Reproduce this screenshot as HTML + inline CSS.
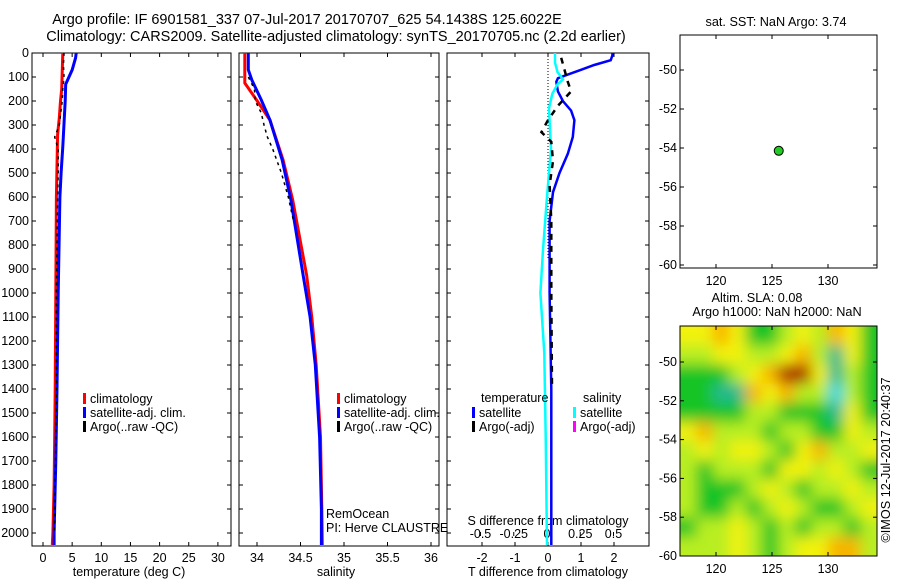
<!DOCTYPE html>
<html><head><meta charset="utf-8">
<style>
html,body{margin:0;padding:0;background:#fff;}
svg{display:block;font-family:"Liberation Sans",sans-serif;}
text{font-size:12.5px;fill:#000;}
.big{font-size:14.5px;}
.mid{font-size:12.7px;}
</style></head>
<body>
<svg id="chart" width="900" height="580" viewBox="0 0 900 580" xmlns="http://www.w3.org/2000/svg">
<defs>
<clipPath id="clipHeat"><rect x="680" y="326" width="197" height="230"/></clipPath>
<filter id="blurHeat" filterUnits="userSpaceOnUse" x="640" y="290" width="280" height="300"><feGaussianBlur stdDeviation="7"/></filter>
</defs>
<text x="307" y="24" text-anchor="middle" class="big">Argo profile: IF 6901581_337 07-Jul-2017 20170707_625 54.1438S 125.6022E</text>
<text x="336" y="41" text-anchor="middle" class="big">Climatology: CARS2009. Satellite-adjusted climatology: synTS_20170705.nc (2.2d earlier)</text>
<text x="776" y="26" text-anchor="middle" class="mid">sat. SST: NaN Argo: 3.74</text>
<text x="757" y="302" text-anchor="middle" class="mid">Altim. SLA: 0.08</text>
<text x="777" y="316" text-anchor="middle" class="mid">Argo h1000: NaN h2000: NaN</text>
<text transform="translate(890,460) rotate(-90)" text-anchor="middle" class="mid">©IMOS 12-Jul-2017 20:40:37</text>
<g id="g"></g>
</svg>
<script>
// ---- data ----
const depthTicks=[0,100,200,300,400,500,600,700,800,900,1000,1100,1200,1300,1400,1500,1600,1700,1800,1900,2000];
const tempTicks=[0,5,10,15,20,25,30];
const salTicks=[34,34.5,35,35.5,36];
const tdiffTicks=[-2,-1,0,1,2];
const sdiffTicks=[-0.5,-0.25,0,0.25,0.5];
const lonTicks=[120,125,130];
const latTicks=[-50,-52,-54,-56,-58,-60];

const tClimDepth=[0,150,200,270,340,600,1000,1400,1600,1800,2000,2050];
const tClimVal=[3.4,3.2,3.0,2.8,2.5,2.3,2.2,2.1,2.0,1.9,1.7,1.6];
const tSatDepth=[0,20,70,130,200,390,500,600,1000,1400,1700,2000,2050];
const tSatVal=[5.7,5.6,5.0,3.9,3.8,3.4,3.1,2.9,2.6,2.4,2.2,1.9,1.9];
const tArgoDepth=[0,50,100,150,200,300,350,400,500,600,800,1000,1400,2000];
const tArgoVal=[3.6,3.5,3.6,3.4,3.3,2.8,2.0,2.6,2.6,2.5,2.4,2.3,2.3,2.0];

const sClimDepth=[0,125,167,204,280,446,612,925,1100,1300,1600,1900,2050];
const sClimVal=[33.86,33.86,33.94,34.01,34.15,34.30,34.41,34.57,34.63,34.68,34.73,34.745,34.75];
const sSatDepth=[0,70,112,196,280,446,612,925,1100,1300,1600,1900,2050];
const sSatVal=[33.90,33.90,33.94,34.05,34.15,34.29,34.39,34.53,34.61,34.67,34.72,34.74,34.74];
const sArgoDepth=[100,150,200,250,300,350,400,500,600,700];
const sArgoVal=[33.9,33.97,33.98,34.05,34.08,34.12,34.18,34.28,34.36,34.42];

const dTSatDepth=[0,10,30,50,70,90,105,120,160,200,240,280,350,420,500,580,700,1000,1400,2050];
const dTSatVal=[1.95,1.95,1.9,1.4,1.0,0.6,0.3,0.25,0.3,0.45,0.7,0.8,0.75,0.6,0.35,0.15,0.05,0.05,0.1,0.1];
const dSSatDepth=[0,40,80,110,130,170,230,400,600,820,1000,1250,1600,2050];
const dSSatVal=[0.06,0.06,0.08,0.12,0.08,0.04,0.015,0.03,0.0,-0.03,-0.05,-0.02,-0.01,0.0];
const dTArgoDepth=[20,120,160,220,280,330,370,450,550,700,1000,1400];
const dTArgoVal=[0.4,0.6,0.7,0.3,0.0,-0.2,0.1,0.15,0.05,0.1,0.1,0.12];

const floatLon=[125.6022];
const floatLat=[-54.1438];

const slaGrid=[
[2,2,3,2,0,0,1,2,1,3,2,0],
[1,1,2,2,1,1,2,3,1,-1,2,0],
[0,0,0,1,2,3,4,4,2,-1,1,0],
[0,0,-1,-1,3,2,3,1,1,-2,1,0],
[0,0,0,0,1,1,0,0,0,-1,2,0],
[2,3,1,1,1,0,1,1,0,0,2,1],
[1,2,1,2,2,1,0,2,3,1,1,2],
[1,0,1,1,1,0,2,2,1,2,1,0],
[1,0,0,0,1,2,1,0,1,1,2,1],
[1,0,0,1,0,1,2,1,0,0,1,2],
[0,1,1,2,1,0,1,0,1,1,0,1],
[1,1,1,2,1,0,1,2,2,3,3,1]];
// ---- scales ----
const NS="http://www.w3.org/2000/svg";
const G=document.getElementById('g');
function el(tag,attrs,parent){const e=document.createElementNS(NS,tag);for(const k in attrs)e.setAttribute(k,attrs[k]);(parent||G).appendChild(e);return e;}
const yD=d=>53+d*0.24;
const xT=t=>43+t*5.83;
const xS=s=>257+(s-34)*87;
const xdT=t=>548+t*33;
const xdS=s=>547+s*133;
const xLon=l=>772+(l-125)*11.2;
const yLatTop=l=>70+(-50-l)*19.5;
const yLatBot=l=>362+(-50-l)*19.4;

function box(x,y,w,h,name){const r=el('rect',{x:x,y:y,width:w,height:h,fill:'none',stroke:'#000','stroke-width':1});

}
function line(xs,ys,fx,color,w,name,dash){
  const pts=xs.map((v,i)=>fx(v).toFixed(1)+','+yD(ys[i]).toFixed(1)).join(' ');
  const p=el('polyline',{points:pts,fill:'none',stroke:color,'stroke-width':w});
  if(dash)p.setAttribute('stroke-dasharray',dash);
  
  
}
function depthAxis(x0,x1,labels){
  depthTicks.forEach(d=>{const y=yD(d);
    el('line',{x1:x0,y1:y,x2:x0+4,y2:y,stroke:'#000'});
    el('line',{x1:x1,y1:y,x2:x1-4,y2:y,stroke:'#000'});
    if(labels){const t=el('text',{x:x0-3,y:y+4,'text-anchor':'end'});t.textContent=d;
      
      }
  });
}
function xAxis(ticks,fx,yb,yt,ylab,name,fmt){
  ticks.forEach(v=>{const x=fx(v);
    el('line',{x1:x,y1:yb,x2:x,y2:yb-4,stroke:'#000'});
    if(yt!==null)el('line',{x1:x,y1:yt,x2:x,y2:yt+4,stroke:'#000'});
    const t=el('text',{x:x,y:ylab,'text-anchor':'middle'});t.textContent=fmt?fmt(v):v;
    
    
  });
}
function legendItem(x,y,color,label,name){
  el('rect',{x:x,y:y-10,width:3,height:11,fill:color});
  const t=el('text',{x:x+7,y:y});t.textContent=label;
  
  
}
function title(x,y,txt,name){const t=el('text',{x:x,y:y,'text-anchor':'middle'});t.textContent=txt;
  
  }
// ---- panel 1 temperature ----
box(32,53,199,493,'temperature-plot-area');
depthAxis(32,231,true);
xAxis(tempTicks,xT,546,53,562,'temperature-tick-label');
title(129,576,'temperature (deg C)','temperature-axis-title');
line(tClimVal,tClimDepth,xT,'#ff0000',3,'temp-climatology-line');
line(tSatVal,tSatDepth,xT,'#0000ff',3,'temp-satellite-line');
line(tArgoVal,tArgoDepth,xT,'#000',1.5,'temp-argo-line','3,4');
legendItem(83,403,'#ff0000','climatology','legend-climatology');
legendItem(83,417,'#0000ff','satellite-adj. clim.','legend-satellite');
legendItem(83,431,'#000','Argo(..raw -QC)','legend-argo');
// ---- panel 2 salinity ----
box(239,53,200,493,'salinity-plot-area');
depthAxis(239,439,false);
xAxis(salTicks,xS,546,53,562,'salinity-tick-label');
title(336,576,'salinity','salinity-axis-title');
line(sClimVal,sClimDepth,xS,'#ff0000',3,'sal-climatology-line');
line(sSatVal,sSatDepth,xS,'#0000ff',3,'sal-satellite-line');
line(sArgoVal,sArgoDepth,xS,'#000',1.5,'sal-argo-line','3,4');
legendItem(337,403,'#ff0000','climatology','legend-sal-climatology');
legendItem(337,417,'#0000ff','satellite-adj. clim.','legend-sal-satellite');
legendItem(337,431,'#000','Argo(..raw -QC)','legend-sal-argo');
{const t=el('text',{x:326,y:518});t.textContent='RemOcean';


const t2=el('text',{x:326,y:532});t2.textContent='PI: Herve CLAUSTRE';

}
// ---- panel 3 differences ----
box(447,53,202,493,'difference-plot-area');
depthAxis(447,649,false);
xAxis(tdiffTicks,xdT,546,53,562,'tdiff-tick-label');
xAxis(sdiffTicks,xdS,536,null,538,'sdiff-tick-label',v=>v===0?'0':String(v));
title(548,576,'T difference from climatology','tdiff-axis-title');
title(548,525,'S difference from climatology','sdiff-axis-title');
el('line',{x1:xdT(0),y1:53,x2:xdT(0),y2:260,stroke:'#000','stroke-dasharray':'1,2'});
line(dTSatVal,dTSatDepth,xdT,'#0000ff',2.5,'tdiff-satellite-line');
line(dSSatVal,dSSatDepth,xdS,'#00ffff',2.5,'sdiff-satellite-line');
line(dTArgoVal,dTArgoDepth,xdT,'#000',2.5,'tdiff-argo-line','6,6');
{const t=el('text',{x:481,y:402});t.textContent='temperature';


const t2=el('text',{x:583,y:402});t2.textContent='salinity';

}
legendItem(472,417,'#0000ff','satellite','legend-t-satellite');
legendItem(472,431,'#000','Argo(-adj)','legend-t-argo');
legendItem(573,417,'#00ffff','satellite','legend-s-satellite');
legendItem(573,431,'#ff00ff','Argo(-adj)','legend-s-argo');
// ---- map 1 SST ----
box(680,35,197,233,'sst-map-area');
function mapAxes(yTop,yBot,fy,lx,name){
  latTicks.forEach(l=>{const y=fy(l);
    el('line',{x1:877,y1:y,x2:873,y2:y,stroke:'#000'});
    el('line',{x1:680,y1:y,x2:684,y2:y,stroke:'#000'});
    const t=el('text',{x:lx,y:y+4,'text-anchor':'end'});t.textContent=l;
    
    });
  lonTicks.forEach(v=>{const x=xLon(v);
    el('line',{x1:x,y1:yBot,x2:x,y2:yBot-4,stroke:'#000'});
    el('line',{x1:x,y1:yTop,x2:x,y2:yTop+4,stroke:'#000'});
    const t=el('text',{x:x,y:yBot+17,'text-anchor':'middle'});t.textContent=v;
    
    });
}
mapAxes(35,268,yLatTop,677,'sst-map');
// ---- heatmap ----
const colors={'-2':'#30d8e0','-1':'#20b890','0':'#18c428','1':'#b8ee20','2':'#f2f20a','3':'#f8b400','4':'#a82000'};
const hg=el('g',{'clip-path':'url(#clipHeat)'});


el('rect',{x:680,y:326,width:197,height:230,fill:'#18c428'},hg);
const hb=el('g',{filter:'url(#blurHeat)'},hg);
const nr=slaGrid.length,nc=slaGrid[0].length,cw=197/nc,ch=230/nr;
slaGrid.forEach((row,i)=>row.forEach((v,j)=>{
  let x=680+j*cw,y=326+i*ch,w=cw+0.5,h=ch+0.5;
  if(j===0){x-=25;w+=25;} if(j===nc-1){w+=25;}
  if(i===0){y-=25;h+=25;} if(i===nr-1){h+=25;}
  const r=el('rect',{x:x,y:y,width:w,height:h,fill:colors[String(v)]},hb);
  
  
}));
box(680,326,197,230,'sla-map-area');
mapAxes(326,556,yLatBot,677,'sla-map');
// float marker on SST map
floatLon.forEach((lo,i)=>{const c=el('circle',{cx:xLon(lo),cy:yLatTop(floatLat[i]),r:4.5,fill:'#22cc22',stroke:'#000','stroke-width':1});

});
</script>
</body></html>
